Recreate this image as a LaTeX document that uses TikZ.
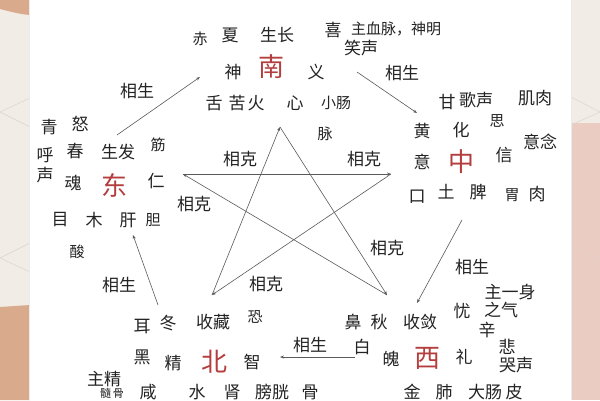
\documentclass[tikz,border=0pt]{standalone}
\usepackage{fontspec}
\setmainfont{Noto Sans CJK SC}
\usetikzlibrary{arrows.meta}
\definecolor{beige}{RGB}{241,236,230}
\definecolor{tan}{RGB}{218,170,140}
\definecolor{pinkbg}{RGB}{235,204,195}
\definecolor{bgline}{RGB}{220,212,204}
\definecolor{txt}{RGB}{35,35,35}
\definecolor{dirred}{RGB}{180,62,62}
\definecolor{lnc}{RGB}{90,90,90}
\tikzset{
  t/.style={inner sep=0pt,text=txt,font=\fontsize{17}{17}\selectfont},
  ts/.style={inner sep=0pt,text=txt,font=\fontsize{15}{15}\selectfont},
  tx/.style={inner sep=0pt,text=txt,font=\fontsize{11}{11}\selectfont},
  dir/.style={inner sep=0pt,text=dirred,font=\fontsize{26}{26}\selectfont},
  arr/.style={draw=lnc,line width=0.6pt,-{Stealth[length=4pt,width=3pt]}},
}
\begin{document}
\begin{tikzpicture}[x=1pt,y=-1pt]
\useasboundingbox (0,0) rectangle (600,400);
% background
\fill[beige] (0,0) rectangle (600,400);
\fill[tan] (0,0) -- (30,0) -- (30,15) .. controls (18,14) and (8,11) .. (0,9) -- cycle;
\fill[tan] (0,307) -- (30,305) -- (30,400) -- (0,400) -- cycle;
\fill[pinkbg] (571,123) rectangle (600,400);
\draw[bgline,line width=0.5pt] (30,98) -- (0,112) -- (30,127);
\draw[bgline,line width=0.5pt] (30,243) -- (0,258) -- (30,272);
\draw[bgline,line width=0.5pt] (571,97) -- (600,112) -- (571,125);
\draw[bgline!70!pinkbg,line width=0.5pt] (571,245) -- (600,258) -- (571,272);
\fill[black!8] (29,0) rectangle (572,400);
\fill[white] (30,0) rectangle (571,400);

% South
\node[ts] (chi) at (200,39) {赤};
\node[t] (xia) at (230,35) {夏};
\node[t] (shengzhang) at (277,35) {生长};
\node[t] (xi) at (333,30) {喜};
\node[ts,anchor=west] (zhuxue) at (351,29) {主血脉，神明};
\node[t] (xiaosheng) at (361,48) {笑声};
\node[t] (shen) at (233,72) {神};
\node[dir] (nan) at (271,67) {南};
\node[t] (yi) at (316,72) {义};
\node[t] (she) at (214,103) {舌};
\node[t] (ku) at (237,103) {苦};
\node[t] (huo) at (256,103) {火};
\node[t] (xin) at (295,103) {心};
\node[ts] (xiaochang) at (336,103) {小肠};
\node[ts] (mai) at (325,134) {脉};

% East
\node[t] (qing) at (49,127) {青};
\node[t] (nu) at (80,124) {怒};
\node[t] (hu) at (45,155) {呼};
\node[t] (sheng1) at (45,175) {声};
\node[t] (chun) at (75,151) {春};
\node[t] (shengfa) at (118,152) {生发};
\node[ts] (jin) at (158,145) {筋};
\node[t] (hun) at (73,183) {魂};
\node[dir] (dong) at (114,185) {东};
\node[t] (ren) at (156,181) {仁};
\node[t] (mu2) at (60,220) {目};
\node[t] (mu) at (94,220) {木};
\node[t] (gan) at (128,220) {肝};
\node[ts] (dan) at (153,220) {胆};
\node[ts] (suan) at (77,252) {酸};

% Centre
\node[t] (gan2) at (447,102) {甘};
\node[t] (gesheng) at (476,100) {歌声};
\node[t] (jirou) at (535,98) {肌肉};
\node[ts] (si) at (497,121) {思};
\node[t] (huang) at (422,131) {黄};
\node[t] (hua) at (461,130) {化};
\node[t] (yinian) at (540,142) {意念};
\node[t] (yi2) at (422,162) {意};
\node[dir] (zhong) at (461,162) {中};
\node[t] (xin2) at (504,155) {信};
\node[t] (kou) at (417,197) {口};
\node[t] (tu) at (446,192) {土};
\node[t] (pi) at (478,192) {脾};
\node[ts] (wei) at (512,195) {胃};
\node[t] (rou) at (537,194) {肉};

% West
\node[t] (zhuyishen) at (510,292) {主一身};
\node[t] (zhiqi) at (501,310) {之气};
\node[t] (xinw) at (487,330) {辛};
\node[t] (you) at (462,311) {忧};
\node[t] (bi) at (353,322) {鼻};
\node[t] (qiu) at (379,322) {秋};
\node[t] (shoulian) at (420,322) {收敛};
\node[t] (bai) at (362,347) {白};
\node[t] (bei) at (507,347) {悲};
\node[t] (kusheng) at (516,365) {哭声};
\node[t] (po) at (391,359) {魄};
\node[dir] (xi2) at (427,358) {西};
\node[t] (li) at (464,357) {礼};
\node[t] (jinw) at (412,392) {金};
\node[t] (fei) at (444,392) {肺};
\node[t] (dachang) at (485,392) {大肠};
\node[t] (pifu) at (514,392) {皮};

% North
\node[t] (er) at (142,327) {耳};
\node[t] (dong2) at (168,323) {冬};
\node[t] (shoucang) at (213,322) {收藏};
\node[ts] (kong) at (255,317) {恐};
\node[t] (hei) at (142,357) {黑};
\node[t] (jing) at (173,363) {精};
\node[dir] (bei2) at (214,362) {北};
\node[t] (zhi) at (252,362) {智};
\node[t] (zhujing) at (104,379) {主精};
\node[t] (xian) at (148,392) {咸};
\node[t] (shui) at (197,392) {水};
\node[t] (shen2) at (232,392) {肾};
\node[t] (pangguang) at (272,392) {膀胱};
\node[t] (gu) at (310,392) {骨};
\node[tx] (suigu) at (112,393.5) {髓\,骨};

% labels
\node[t] (lsE) at (137,91) {相生};
\node[t] (lsS) at (402,73) {相生};
\node[t] (lsC) at (472,267) {相生};
\node[t] (lsW) at (310,345) {相生};
\node[t] (lsN) at (119,285) {相生};
\node[t] (lk1) at (240,159) {相克};
\node[t] (lk2) at (364,159) {相克};
\node[t] (lk3) at (194,204) {相克};
\node[t] (lk4) at (387,248) {相克};
\node[t] (lk5) at (266,284) {相克};

% star vertices
\coordinate (T) at (280,127);
\coordinate (L) at (183,174);
\coordinate (R) at (391,174);
\coordinate (BL) at (212,295);
\coordinate (BR) at (387,295);
\draw[arr] (L) -- (R);
\draw[arr] (R) -- (BL);
\draw[arr] (BL) -- (T);
\draw[arr] (T) -- (BR);
\draw[arr] (BR) -- (L);

% generating cycle
\coordinate (E1) at (117,135); \coordinate (E2) at (200,77);
\coordinate (S1) at (357,72);  \coordinate (S2) at (417,113);
\coordinate (C1) at (462,220); \coordinate (C2) at (417,303);
\coordinate (W1) at (355,357); \coordinate (W2) at (280,357);
\coordinate (N1) at (158,305); \coordinate (N2) at (133,235);
\draw[arr] (E1) -- (E2);
\draw[arr] (S1) -- (S2);
\draw[arr] (C1) -- (C2);
\draw[arr] (W1) -- (W2);
\draw[arr] (N1) -- (N2);
\end{tikzpicture}
\end{document}
